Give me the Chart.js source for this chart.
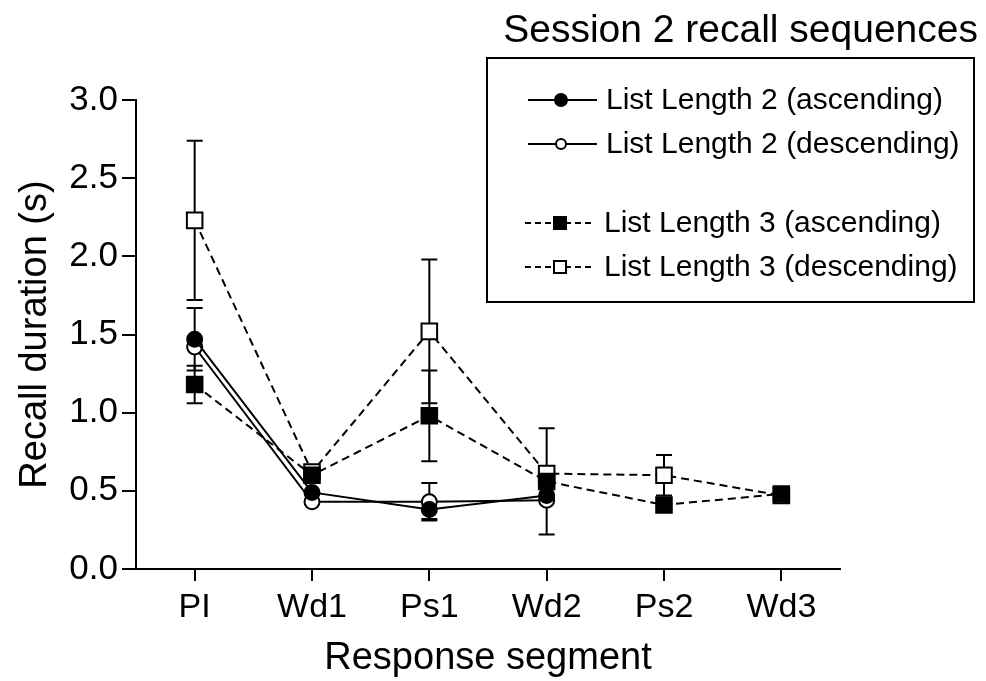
<!DOCTYPE html>
<html>
<head>
<meta charset="utf-8">
<script src="https://cdn.jsdelivr.net/npm/chart.js@4.4.1/dist/chart.umd.min.js"></script>
<style>
  html, body { margin: 0; padding: 0; background: #fff; }
  #wrap { width: 986px; height: 681px; position: relative; }
</style>
</head>
<body>
<div id="wrap"><canvas id="recallChart"></canvas></div>
<script>
// Response segments
var segments = ["PI", "Wd1", "Ps1", "Wd2", "Ps2", "Wd3"];

// Mean recall durations (s)
var len2Asc = [1.47, 0.49, 0.38, 0.47];
var len2Desc = [1.42, 0.43, 0.43, 0.44];
var len3Asc = [1.18, 0.60, 0.98, 0.56, 0.41, 0.48];
var len3Desc = [2.23, 0.62, 1.52, 0.61, 0.60, 0.47];

// Error bar half-lengths (s)
var len2AscErr = [0.20, 0, 0.06, 0];
var len2DescErr = [0, 0, 0.12, 0];
var len3AscErr = [0.12, 0, 0.29, 0.34, 0, 0];
var len3DescErr = [0.51, 0, 0.46, 0, 0.13, 0];

var yTicks = [0, 0.5, 1.0, 1.5, 2.0, 2.5, 3.0];

var FONT = "'Liberation Sans', Arial, sans-serif";

// Error bars drawn under the markers
var errorBars = {
  id: "errorBars",
  beforeDatasetsDraw: function (chart) {
    var ctx = chart.ctx;
    var x = chart.scales.x, y = chart.scales.y;
    ctx.save();
    ctx.strokeStyle = "#000";
    ctx.lineWidth = 2;
    chart.data.datasets.forEach(function (ds) {
      ds.data.forEach(function (v, i) {
        var e = ds.errors[i];
        if (!e) return;
        var px = x.getPixelForValue(i);
        var top = y.getPixelForValue(v + e);
        var bot = y.getPixelForValue(v - e);
        ctx.beginPath();
        ctx.moveTo(px, top); ctx.lineTo(px, bot);
        ctx.moveTo(px - 8, top); ctx.lineTo(px + 8, top);
        ctx.moveTo(px - 8, bot); ctx.lineTo(px + 8, bot);
        ctx.stroke();
      });
    });
    ctx.restore();
  }
};

// Title and boxed legend, top right
var boxLegend = {
  id: "boxLegend",
  afterDraw: function (chart) {
    var ctx = chart.ctx;
    ctx.save();
    ctx.fillStyle = "#000";
    ctx.font = "39px " + FONT;
    ctx.textAlign = "right";
    ctx.textBaseline = "middle";
    ctx.fillText("Session 2 recall sequences", 978, 31);

    ctx.fillStyle = "#fff";
    ctx.fillRect(487, 58, 487, 244);
    ctx.strokeStyle = "#000";
    ctx.lineWidth = 2;
    ctx.strokeRect(487, 58, 487, 244);

    var rows = [100, 144, 223, 267];
    ctx.font = "30px " + FONT;
    ctx.textAlign = "left";
    chart.data.datasets.forEach(function (ds, i) {
      var ry = rows[i];
      var dashed = ds.borderDash && ds.borderDash.length;
      ctx.strokeStyle = "#000";
      ctx.lineWidth = 2;
      ctx.setLineDash(dashed ? [6, 4] : []);
      ctx.beginPath();
      ctx.moveTo(dashed ? 525 : 528, ry);
      ctx.lineTo(dashed ? 591 : 597, ry);
      ctx.stroke();
      ctx.setLineDash([]);
      ctx.fillStyle = ds.pointBackgroundColor;
      ctx.beginPath();
      if (ds.pointStyle === "rect") {
        ctx.rect(554, ry - 6, 12, 12);
      } else {
        ctx.arc(561, ry, i === 0 ? 6 : 5, 0, Math.PI * 2);
      }
      ctx.fill();
      ctx.stroke();
      ctx.fillStyle = "#000";
      ctx.fillText(ds.label, dashed ? 604 : 606, ry + 1);
    });
    ctx.restore();
  }
};

function series(label, data, errors, style, filled, dashed) {
  return {
    label: label,
    data: data,
    errors: errors,
    borderColor: "#000",
    borderWidth: 2,
    borderDash: dashed ? [8, 5] : [],
    pointStyle: style,
    pointRadius: style === "rect" ? 11 : 7.5,
    pointBorderWidth: 2,
    pointBorderColor: "#000",
    pointBackgroundColor: filled ? "#000" : "#fff",
    tension: 0,
    fill: false
  };
}

new Chart(document.getElementById("recallChart"), {
  type: "line",
  data: {
    labels: segments,
    datasets: [
      series("List Length 2 (ascending)", len2Asc, len2AscErr, "circle", true, false),
      series("List Length 2 (descending)", len2Desc, len2DescErr, "circle", false, false),
      series("List Length 3 (ascending)", len3Asc, len3AscErr, "rect", true, true),
      series("List Length 3 (descending)", len3Desc, len3DescErr, "rect", false, true)
    ]
  },
  options: {
    responsive: true,
    maintainAspectRatio: false,
    animation: false,
    layout: { padding: { top: 100, right: 146, left: 0, bottom: 0 } },
    plugins: {
      legend: { display: false },
      tooltip: { enabled: false }
    },
    scales: {
      x: {
        offset: true,
        afterFit: function (scale) { scale.height = 112; },
        grid: {
          offset: false,
          drawOnChartArea: false,
          drawTicks: true,
          tickLength: 12,
          color: "#000",
          lineWidth: 2
        },
        border: { display: true, color: "#000", width: 2 },
        ticks: { color: "#000", padding: 6, font: { family: FONT, size: 34 } },
        title: {
          display: true,
          text: "Response segment",
          color: "#000",
          font: { family: FONT, size: 38 },
          padding: { top: 0, bottom: 0 }
        }
      },
      y: {
        min: 0,
        max: 3,
        afterFit: function (scale) { scale.width = 136; },
        afterBuildTicks: function (scale) {
          scale.ticks = yTicks.map(function (v) { return { value: v }; });
        },
        grid: {
          drawOnChartArea: false,
          drawTicks: true,
          tickLength: 14,
          color: "#000",
          lineWidth: 2
        },
        border: { display: true, color: "#000", width: 2 },
        ticks: {
          color: "#000",
          padding: 4,
          font: { family: FONT, size: 35 },
          callback: function (v) { return Number(v).toFixed(1); }
        },
        title: {
          display: true,
          text: "Recall duration (s)",
          color: "#000",
          font: { family: FONT, size: 38 },
          padding: { top: 13, bottom: 0 }
        }
      }
    }
  },
  plugins: [errorBars, boxLegend]
});
</script>
</body>
</html>
